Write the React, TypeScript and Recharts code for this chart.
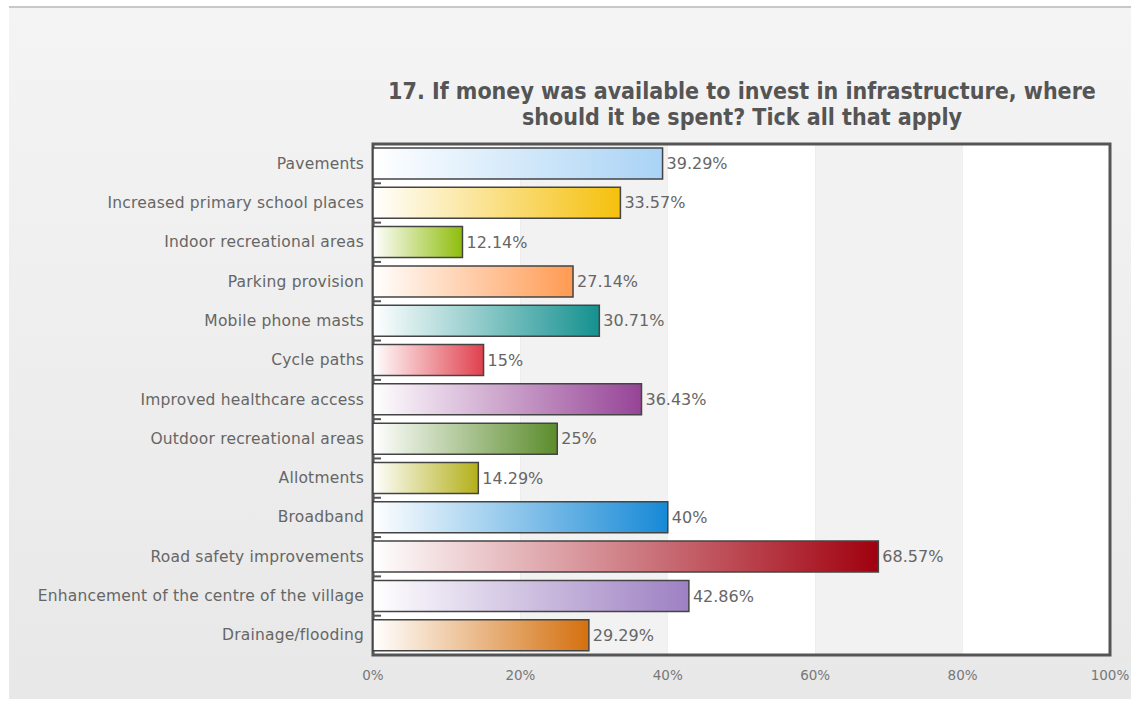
import React from "react";
import {
  BarChart,
  Bar,
  XAxis,
  YAxis,
  CartesianGrid,
  Cell,
  LabelList,
  ReferenceArea,
} from "recharts";

const categories = [
  "Pavements",
  "Increased primary school places",
  "Indoor recreational areas",
  "Parking provision",
  "Mobile phone masts",
  "Cycle paths",
  "Improved healthcare access",
  "Outdoor recreational areas",
  "Allotments",
  "Broadband",
  "Road safety improvements",
  "Enhancement of the centre of the village",
  "Drainage/flooding",
];

const values = [39.29, 33.57, 12.14, 27.14, 30.71, 15, 36.43, 25, 14.29, 40, 68.57, 42.86, 29.29];

const colors = [
  "#a9d3f5",
  "#f5c00c",
  "#8fbd0c",
  "#ff9a52",
  "#14918f",
  "#e0404d",
  "#964496",
  "#5b8c2c",
  "#b3b019",
  "#1689d6",
  "#a0000e",
  "#9d80c2",
  "#d4700e",
];

const xTicks = [0, 20, 40, 60, 80, 100];
const bands = [
  [0, 20, "#ffffff"],
  [20, 40, "#f2f2f2"],
  [40, 60, "#ffffff"],
  [60, 80, "#f2f2f2"],
  [80, 100, "#ffffff"],
] as const;

const title1 = "17. If money was available to invest in infrastructure, where";
const title2 = "should it be spent? Tick all that apply";

const data = categories.map((name, i) => ({ name, value: values[i] }));

const FONT = "DejaVu Sans, Verdana, sans-serif";

const YTick = (props: any) => {
  const { x, y, payload, index } = props;
  const off = payload.offset || 0;
  const last = index === categories.length - 1;
  return (
    <g>
      <text x={x + 6} y={y} dy={5} textAnchor="end" fill="#666" fontSize={15.5} letterSpacing={0.2} fontFamily={FONT}>
        {payload.value}
      </text>
      <line x1={373} x2={381} y1={y - off} y2={y - off} stroke="#555" strokeWidth={2} />
      {last && <line x1={373} x2={381} y1={y + off} y2={y + off} stroke="#555" strokeWidth={2} />}
    </g>
  );
};

export default function App() {
  return (
    <div
      style={{
        position: "fixed",
        left: 0,
        top: 0,
        width: 1131,
        height: 701,
        background: "#ffffff",
        overflow: "hidden",
      }}
    >
      <div
        style={{
          position: "absolute",
          left: 9,
          top: 6,
          width: 1122,
          height: 691,
          borderTop: "2px solid #c8c8c8",
          background: "linear-gradient(#f4f4f4, #e8e8e8)",
        }}
      />
      <div style={{ position: "absolute", left: 0, top: 0, width: 1131, height: 701 }}>
        <svg width={1131} height={140} style={{ position: "absolute", left: 0, top: 0 }}>
          <text
            x={742}
            y={99}
            textAnchor="middle"
            fill="#555"
            fontSize={23}
            fontWeight="bold"
            fontFamily="DejaVu Sans Condensed, DejaVu Sans, sans-serif"
          >
            {title1}
          </text>
          <text
            x={742}
            y={125}
            textAnchor="middle"
            fill="#555"
            fontSize={23}
            fontWeight="bold"
            fontFamily="DejaVu Sans Condensed, DejaVu Sans, sans-serif"
          >
            {title2}
          </text>
        </svg>
        <BarChart
          width={1131}
          height={701}
          data={data}
          layout="vertical"
          margin={{ top: 144, right: 21, bottom: 16, left: 0 }}
          barCategoryGap={4}
          style={{ position: "absolute", left: 0, top: 0 }}
        >
          <defs>
            {colors.map((c, i) => (
              <linearGradient key={i} id={`g${i}`} x1="0" y1="0" x2="1" y2="0">
                <stop offset="0%" stopColor="#ffffff" />
                <stop offset="100%" stopColor={c} />
              </linearGradient>
            ))}
          </defs>
          {bands.map(([a, b, f], i) => (
            <ReferenceArea key={i} x1={a} x2={b} fill={f} fillOpacity={1} stroke="none" ifOverflow="visible" />
          ))}
          <CartesianGrid horizontal={false} stroke="#d4d4d4" strokeWidth={2} />
          <XAxis
            type="number"
            domain={[0, 100]}
            ticks={xTicks}
            tickFormatter={(v) => `${v}%`}
            axisLine={false}
            tickLine={false}
            height={30}
            tickMargin={9}
            tick={{ fill: "#777", fontSize: 13.5, fontFamily: FONT }}
          />
          <YAxis
            type="category"
            dataKey="name"
            width={373}
            axisLine={false}
            tickLine={false}
            tick={<YTick />}
            tickMargin={9}
            interval={0}
          />
          <Bar dataKey="value" isAnimationActive={false} stroke="#444" strokeWidth={1.5} barSize={31}>
            {data.map((_, i) => (
              <Cell key={i} fill={`url(#g${i})`} />
            ))}
            <LabelList
              dataKey="value"
              position="right"
              offset={4}
              formatter={(v: any) => `${v}%`}
              fill="#666"
              fontSize={16}
              fontFamily={FONT}
            />
          </Bar>
          <ReferenceArea x1={0} x2={100} fill="none" stroke="#555" strokeWidth={3} ifOverflow="visible" />
        </BarChart>
      </div>
    </div>
  );
}
